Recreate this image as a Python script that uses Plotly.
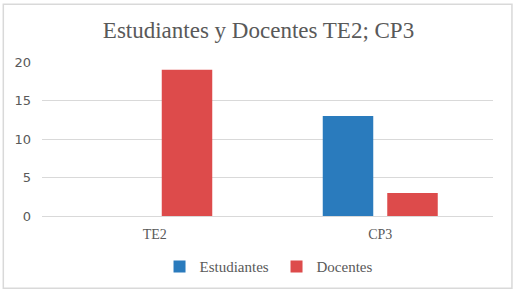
import plotly.graph_objects as go

categories = ["TE2", "CP3"]
estudiantes = [0, 13]
docentes = [19, 3]
y_ticks = [0, 5, 10, 15, 20]

BLUE = "#2a7bbd"
RED = "#dd4b4b"
GRAY = "#595959"

fig = go.Figure()
fig.add_trace(go.Bar(name="Estudiantes", x=categories, y=estudiantes,
                     marker=dict(color=BLUE, line=dict(width=0))))
fig.add_trace(go.Bar(name="Docentes", x=categories, y=docentes,
                     marker=dict(color=RED, line=dict(width=0))))

fig.update_layout(
    width=517, height=296,
    margin=dict(l=42, r=24, t=62, b=80, autoexpand=False),
    paper_bgcolor="white", plot_bgcolor="white",
    barmode="group", bargap=0.428, bargroupgap=0.217,
    title=dict(text="Estudiantes y Docentes TE2; CP3", x=0.5, xanchor="center",
               y=1 - 30 / 296, yanchor="middle",
               font=dict(family="Liberation Serif", size=23, color=GRAY)),
    showlegend=True,
    legend=dict(orientation="h", x=0.52, xanchor="center", y=-0.33, yanchor="middle",
                font=dict(family="Liberation Serif", size=15, color=GRAY),
                itemwidth=30, entrywidth=72, entrywidthmode="pixels",
                traceorder="normal"),
    xaxis=dict(showgrid=False, showline=False, ticks="", ticklabelstandoff=8,
               tickfont=dict(family="Liberation Serif", size=14, color=GRAY)),
    yaxis=dict(range=[0, 20], tickvals=y_ticks, showgrid=True, gridcolor="#d9d9d9",
               gridwidth=1, zeroline=True, zerolinecolor="#d9d9d9", zerolinewidth=1,
               showline=False, ticks="", ticklabelstandoff=10,
               tickfont=dict(family="DejaVu Sans", size=13, color=GRAY)),
    shapes=[dict(type="rect", xref="paper", yref="paper",
                 x0=-0.0858, x1=1.042, y0=-0.469, y1=1.375,
                 line=dict(color="#d9d9d9", width=1.5), fillcolor="rgba(0,0,0,0)",
                 layer="below")],
)

fig.write_html("out.html", config={"displayModeBar": False},
               post_script="document.body.style.margin='0';document.body.style.padding='0';")
